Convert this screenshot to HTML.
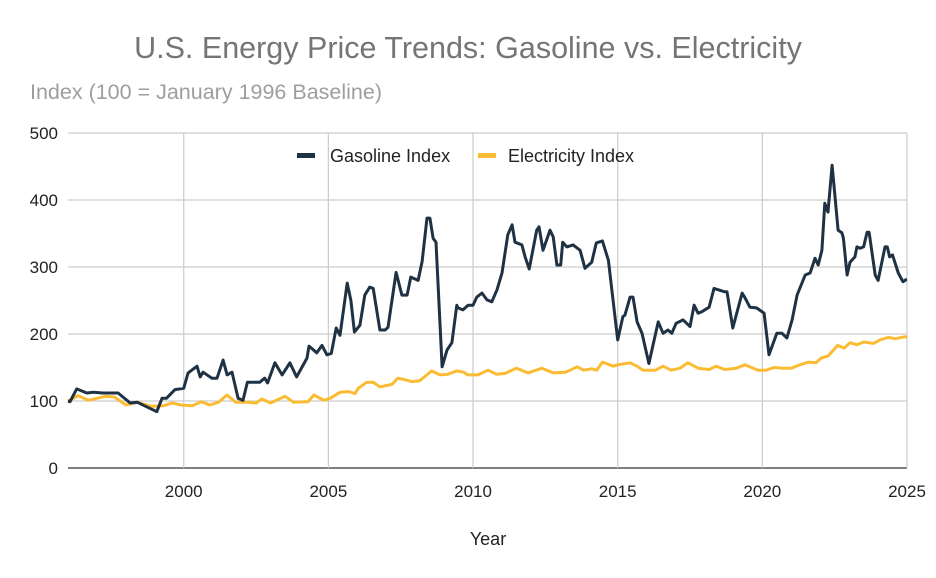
<!DOCTYPE html>
<html><head><meta charset="utf-8">
<style>
html,body{margin:0;padding:0;background:#fff;}
svg{display:block;font-family:"Liberation Sans",Arial,sans-serif;}
</style></head>
<body>
<svg id="chart" width="936" height="578" viewBox="0 0 936 578" xmlns="http://www.w3.org/2000/svg">
  <rect width="936" height="578" fill="#ffffff"/>
  <text x="468" y="58" text-anchor="middle" font-size="30.5" fill="#757575">U.S. Energy Price Trends: Gasoline vs. Electricity</text>
  <text x="30" y="99" font-size="21.5" fill="#9e9e9e">Index (100 = January 1996 Baseline)</text>
  <g id="grid"></g>
  <g id="yticks"></g>
  <g id="xticks"></g>
  <g id="series"></g>
  <text x="488" y="545" text-anchor="middle" font-size="18" fill="#222">Year</text>
  <g>
    <g>
      <rect x="297" y="153" width="18" height="5" fill="#1f3244"/>
      <text x="330" y="162" font-size="18" fill="#222">Gasoline Index</text>
    </g>
    <g>
      <rect x="478" y="153" width="18" height="5" fill="#fbbc34"/>
      <text x="508" y="162" font-size="18" fill="#222">Electricity Index</text>
    </g>
  </g>
</svg>
<script>
const yTicks = [0,100,200,300,400,500];
const xTicks = [2000,2005,2010,2015,2020,2025];
const gasDates = [1996.0,1996.07,1996.3,1996.65,1996.87,1997.2,1997.55,1997.73,1998.15,1998.4,1999.07,1999.25,1999.4,1999.7,2000.0,2000.15,2000.46,2000.57,2000.67,2000.97,2001.15,2001.36,2001.5,2001.67,2001.88,2002.05,2002.2,2002.63,2002.8,2002.9,2003.15,2003.4,2003.67,2003.9,2004.26,2004.33,2004.6,2004.78,2004.95,2005.1,2005.27,2005.4,2005.65,2005.78,2005.9,2006.09,2006.26,2006.43,2006.55,2006.78,2006.96,2007.06,2007.34,2007.54,2007.72,2007.85,2008.1,2008.24,2008.41,2008.51,2008.62,2008.72,2008.93,2009.1,2009.27,2009.44,2009.48,2009.65,2009.83,2010.0,2010.13,2010.31,2010.48,2010.65,2010.83,2011.0,2011.2,2011.35,2011.45,2011.69,2011.8,2011.94,2012.2,2012.28,2012.42,2012.66,2012.77,2012.9,2013.03,2013.1,2013.24,2013.46,2013.7,2013.87,2014.1,2014.26,2014.47,2014.68,2015.0,2015.18,2015.25,2015.43,2015.53,2015.67,2015.84,2016.08,2016.4,2016.57,2016.74,2016.87,2017.02,2017.26,2017.5,2017.64,2017.78,2017.9,2018.16,2018.33,2018.7,2018.78,2018.98,2019.3,2019.4,2019.57,2019.8,2020.06,2020.23,2020.5,2020.68,2020.85,2021.03,2021.2,2021.48,2021.65,2021.82,2021.93,2022.06,2022.16,2022.27,2022.41,2022.62,2022.75,2022.8,2022.93,2023.03,2023.2,2023.27,2023.38,2023.5,2023.62,2023.69,2023.9,2024.0,2024.24,2024.32,2024.4,2024.5,2024.7,2024.86,2024.97,2025.0];
const gasValues = [100,99,118,112,113,112,112,112,97,98,84,104,104,117,119,142,152,136,143,134,134,161,139,143,104,101,128,128,134,127,157,139,157,136,164,182,172,183,169,171,209,198,276,250,203,213,258,270,268,206,206,210,292,258,258,285,280,308,373,373,343,337,151,176,187,243,239,236,243,243,255,261,251,248,266,291,348,363,337,333,315,297,355,360,325,355,345,303,303,337,330,333,325,298,307,336,339,310,191,226,228,255,255,218,201,156,218,201,206,201,216,221,211,243,231,233,240,268,263,263,209,261,254,240,239,231,169,201,201,194,221,258,288,291,313,303,325,395,382,452,355,351,343,288,307,315,330,328,330,352,352,288,280,330,330,315,318,291,278,281,281];
const elecDates = [1996.0,1996.35,1996.7,1997.3,1997.6,1998.0,1998.4,1998.9,1999.3,1999.6,1999.9,2000.3,2000.6,2000.9,2001.2,2001.5,2001.8,2002.2,2002.5,2002.7,2003.0,2003.5,2003.8,2004.3,2004.5,2004.85,2005.06,2005.4,2005.7,2005.92,2006.03,2006.33,2006.55,2006.78,2007.2,2007.4,2007.64,2007.87,2008.15,2008.57,2008.85,2009.13,2009.44,2009.67,2009.83,2010.17,2010.52,2010.8,2011.1,2011.5,2011.9,2012.38,2012.77,2013.2,2013.6,2013.82,2014.1,2014.27,2014.48,2014.85,2015.0,2015.43,2015.67,2015.87,2016.3,2016.57,2016.85,2017.15,2017.43,2017.78,2018.16,2018.4,2018.7,2019.1,2019.4,2019.85,2020.13,2020.4,2020.7,2021.0,2021.3,2021.6,2021.85,2022.03,2022.27,2022.6,2022.83,2023.03,2023.27,2023.5,2023.85,2024.06,2024.35,2024.6,2024.93,2025.0];
const elecValues = [100,108,101,107,106,94,98,92,93,97,94,93,99,94,98,109,98,98,97,103,97,107,98,99,109,101,104,113,114,111,119,128,128,121,125,134,132,129,130,145,139,140,145,143,139,139,146,140,141,149,142,149,142,143,151,146,148,146,158,152,154,157,152,146,146,152,146,149,157,149,147,152,147,149,154,146,146,150,149,149,154,158,157,164,167,183,179,187,184,188,186,191,195,193,196,195];

const X0=68, X1=907, Y0=468, Y1=133;
const xScale = y => X0 + (y-1996)/(2025-1996)*(X1-X0);
const yScale = v => Y0 - v/500*(Y0-Y1);
const NS='http://www.w3.org/2000/svg';
function mk(tag, attrs, parent){const e=document.createElementNS(NS,tag);for(const k in attrs)e.setAttribute(k,attrs[k]);parent.appendChild(e);return e;}
const grid=document.getElementById('grid'), yt=document.getElementById('yticks'), xt=document.getElementById('xticks'), ser=document.getElementById('series');
yTicks.forEach(v=>{
  const l=mk('line',{x1:X0,x2:X1,y1:yScale(v),y2:yScale(v),stroke:v===0?'#333':'#cccccc','stroke-width':v===0?1.3:1.2},grid);
  
  
  const t=mk('text',{x:58,y:yScale(v)+6,'text-anchor':'end','font-size':17,fill:'#222'},yt);
  t.textContent=v;
  
  
});
xTicks.forEach(y=>{
  const l=mk('line',{x1:xScale(y),x2:xScale(y),y1:Y1,y2:Y0,stroke:'#cccccc','stroke-width':1.2},grid);
  
  
  const t=mk('text',{x:xScale(y),y:497,'text-anchor':'middle','font-size':17,fill:'#222'},xt);
  t.textContent=y;
  
  
});
function line(dates, vals, color, name){
  const d=dates.map((x,i)=>(i?'L':'M')+xScale(x).toFixed(1)+' '+yScale(vals[i]).toFixed(1)).join(' ');
  const p=mk('path',{d:d,fill:'none',stroke:color,'stroke-width':3,'stroke-linejoin':'round'},ser);
  
  
}
line(elecDates, elecValues, '#fbbc34', 'electricity-line');
line(gasDates, gasValues, '#1f3244', 'gasoline-line');
</script>
</body></html>
